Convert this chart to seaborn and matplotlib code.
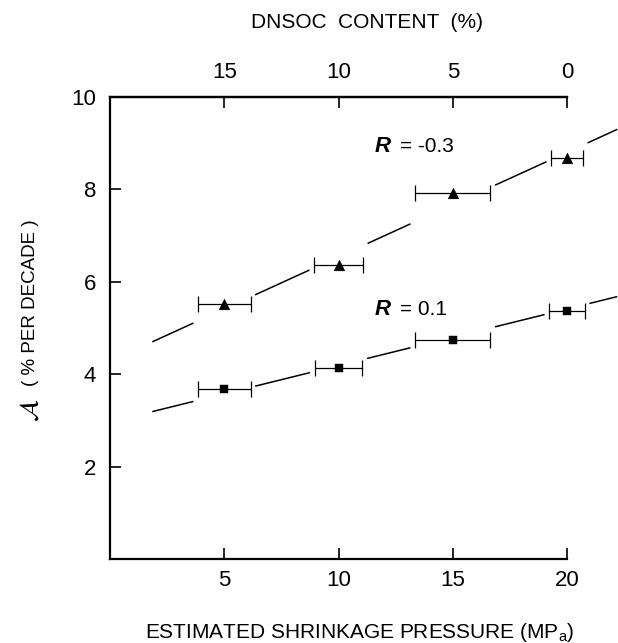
import numpy as np
import pandas as pd
import matplotlib
matplotlib.use("Agg")
import matplotlib.pyplot as plt
import seaborn as sns

# Measured values
pressure = [5, 10, 15, 20]                 # estimated shrinkage pressure (MPa)
dnsoc_content = [15, 10, 5, 0]             # DNSOC content (%) at those pressures
a_triangle = [5.53, 6.36, 7.92, 8.68]      # R = -0.3 series
a_square = [3.68, 4.13, 4.74, 5.37]        # R = 0.1 series
err_triangle = [1.15, 1.07, 1.65, 0.70]
err_square = [1.15, 1.05, 1.65, 0.78]

# Fitted lines (end points)
fit_x = [1.85, 22.2]
fit_triangle = [4.70, 9.30]
fit_square = [3.19, 5.68]

x_ticks = [5, 10, 15, 20]
y_ticks = [2, 4, 6, 8, 10]
r_values = ["-0.3", "0.1"]
r_pos = [(11.6, 8.92), (11.6, 5.39)]

sns.set_theme(style="ticks")
plt.rcParams["font.family"] = ["Liberation Sans", "DejaVu Sans"]
plt.rcParams["mathtext.fontset"] = "dejavusans"

fig = plt.figure(figsize=(6.18, 6.43), dpi=100)
ax = fig.add_axes([110 / 618, 1 - 559 / 643, 457 / 618, 462 / 643])


def gapped_segments(xs, errs, x0, x1, pad=0.2):
    bounds = [x0]
    for x, e in zip(xs, errs):
        bounds += [x - e - pad, x + e + pad]
    bounds.append(x1)
    return [(bounds[i], bounds[i + 1]) for i in range(0, len(bounds), 2)]


for fit_vals, errs in ((fit_triangle, err_triangle), (fit_square, err_square)):
    for a, b in gapped_segments(pressure, errs, fit_x[0], fit_x[1]):
        if b <= a:
            continue
        xs = np.array([a, b])
        ys = np.interp(xs, fit_x, fit_vals)
        ax.plot(xs, ys, color="black", lw=1.1, clip_on=False, solid_capstyle="butt")

for vals, errs in ((a_triangle, err_triangle), (a_square, err_square)):
    eb = ax.errorbar(pressure, vals, xerr=errs, fmt="none", ecolor="black",
                     elinewidth=0.9, capsize=6, capthick=0.9)
    for art in eb.lines[1] + eb.lines[2]:
        art.set_clip_on(False)

df_tri = pd.DataFrame({"pressure": pressure, "A": a_triangle})
df_sq = pd.DataFrame({"pressure": pressure, "A": a_square})
sns.scatterplot(data=df_tri, x="pressure", y="A", marker="^", s=60,
                color="black", edgecolor="black", linewidth=0.3, ax=ax,
                zorder=5, clip_on=False)
sns.scatterplot(data=df_sq, x="pressure", y="A", marker="s", s=40,
                color="black", edgecolor="black", linewidth=0.3, ax=ax,
                zorder=5, clip_on=False)

for (rx, ry), rv in zip(r_pos, r_values):
    ax.text(rx, ry, "R", fontstyle="italic", fontweight="bold", fontsize=16,
            va="center", ha="left", color="black")
    ax.annotate(f"= {rv}", xy=(rx, ry), xytext=(18, 0), textcoords="offset points",
                va="center", ha="left", fontsize=15, color="black")

ax.set_xlim(0, 20)
ax.set_ylim(0, 10)
ax.set_xticks(x_ticks)
ax.set_xticklabels([str(v) for v in x_ticks])
ax.set_yticks(y_ticks)
ax.set_yticklabels([str(v) for v in y_ticks])
ax.set_xlabel("")
ax.set_ylabel("")
ax.spines["right"].set_visible(False)
for s in ("left", "bottom", "top"):
    ax.spines[s].set_linewidth(1.6)
    ax.spines[s].set_color("black")
ax.tick_params(axis="both", direction="in", length=8, width=1.2,
               labelsize=16, colors="black")
ax.tick_params(axis="y", pad=10)
ax.tick_params(axis="x", pad=8)

sec = ax.secondary_xaxis("top", functions=(lambda p: 20 - p, lambda c: 20 - c))
sec.set_xticks(dnsoc_content)
sec.set_xticklabels([str(v) for v in dnsoc_content])
sec.tick_params(direction="in", length=8, width=1.2, pad=10, labelsize=16,
                colors="black")
sec.spines["top"].set_linewidth(1.6)
sec.spines["top"].set_color("black")

fig.text(367 / 618, 1 - 22 / 643, "DNSOC  CONTENT  (%)", fontsize=15,
         ha="center", va="center", color="black")
fig.text(360 / 618, 1 - 632 / 643,
         r"ESTIMATED SHRINKAGE PRESSURE (MP$_{\mathregular{a}}$)",
         fontsize=15, ha="center", va="center", color="black")
# y-axis title: script symbol plus units
fig.text(31 / 618, 1 - 410 / 643, r"$\mathcal{A}$",
         fontsize=19, rotation=90, ha="center", va="center", color="black")
fig.text(31 / 618, 1 - 303 / 643, "( % PER DECADE )",
         fontsize=13.5, rotation=90, ha="center", va="center", color="black")

fig.savefig("out.png", dpi=100, facecolor="white")
